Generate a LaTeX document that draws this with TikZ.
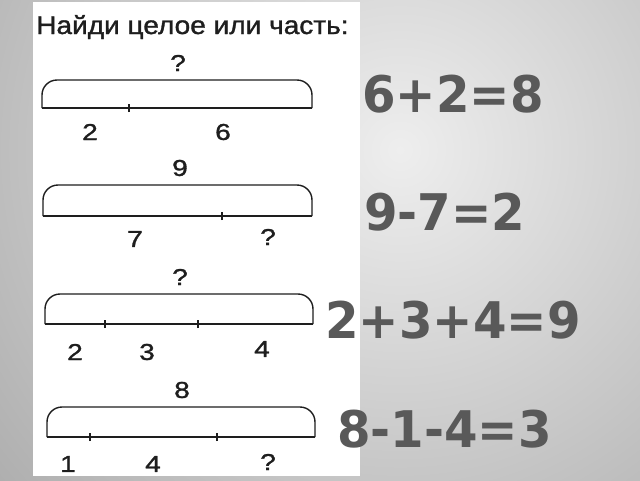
\documentclass[tikz,border=0pt]{standalone}
\usepackage{fontspec}
\setmainfont{Liberation Sans}
\newfontfamily\scanfont[FakeBold=1.2]{Liberation Sans}
\newfontfamily\eqfont{DejaVu Sans}
\definecolor{bgin}{HTML}{EEEEEE}
\definecolor{bgout}{HTML}{888888}
\definecolor{eqgray}{HTML}{595959}
\definecolor{ink}{HTML}{1E1E1E}
\begin{document}
\begin{tikzpicture}[x=1pt,y=-1pt,
  lbl/.style={inner sep=0pt,xscale=1.22,font=\scanfont\fontsize{23}{23}\selectfont,text=ink},
  eq/.style={inner sep=0pt,anchor=base west,xscale=0.955,text=eqgray,font=\eqfont\bfseries\fontsize{50.5}{50}\selectfont},
  baseline seg/.style={draw=ink,line width=2pt},
  bracket/.style={draw=ink,line width=1.4pt,rounded corners=15pt},
  tickmark/.style={draw=ink,line width=1.2pt}]
\useasboundingbox (0,0) rectangle (640,480);
\begin{scope}
\clip (0,0) rectangle (640,480);
\shade[inner color=bgin,outer color=bgout] (400,150) circle[radius=840];
\end{scope}
% page
\fill[white] (33,2) rectangle (360,476);
\node[inner sep=0pt,anchor=base west,xscale=1.1,text=ink,font=\scanfont\fontsize{25.5}{26}\selectfont] (title) at (36,34) {Найди целое или часть:};
% diagram 1
\coordinate (a1) at (42,108); \coordinate (b1) at (312,108);
\draw[baseline seg] (a1) -- (b1);
\draw[bracket] (a1) |- (177,80) -| (b1);
\coordinate (t11) at (129,108);
\draw[tickmark] ([yshift=-4pt]t11) -- ([yshift=4pt]t11);
\node[lbl] (q1) at (178,63) {?};
\node[lbl] (l11) at (90,132) {2};
\node[lbl] (l12) at (223,132) {6};
% diagram 2
\coordinate (a2) at (43,216); \coordinate (b2) at (312,216);
\draw[baseline seg] (a2) -- (b2);
\draw[bracket] (a2) |- (177,185) -| (b2);
\coordinate (t21) at (222,216);
\draw[tickmark] ([yshift=-4pt]t21) -- ([yshift=4pt]t21);
\node[lbl] (q2) at (180,168) {9};
\node[lbl] (l21) at (135,239) {7};
\node[lbl] (l22) at (268,237) {?};
% diagram 3
\coordinate (a3) at (45,324); \coordinate (b3) at (313,324);
\draw[baseline seg] (a3) -- (b3);
\draw[bracket] (a3) |- (179,294) -| (b3);
\coordinate (t31) at (105,324); \coordinate (t32) at (198,324);
\draw[tickmark] ([yshift=-4pt]t31) -- ([yshift=4pt]t31);
\draw[tickmark] ([yshift=-4pt]t32) -- ([yshift=4pt]t32);
\node[lbl] (q3) at (180,277) {?};
\node[lbl] (l31) at (75,352) {2};
\node[lbl] (l32) at (147,352) {3};
\node[lbl] (l33) at (262,349) {4};
% diagram 4
\coordinate (a4) at (47,437); \coordinate (b4) at (315,437);
\draw[baseline seg] (a4) -- (b4);
\draw[bracket] (a4) |- (181,407) -| (b4);
\coordinate (t41) at (90,437); \coordinate (t42) at (217,437);
\draw[tickmark] ([yshift=-4pt]t41) -- ([yshift=4pt]t41);
\draw[tickmark] ([yshift=-4pt]t42) -- ([yshift=4pt]t42);
\node[lbl] (q4) at (182,390) {8};
\node[lbl] (l41) at (68,464) {1};
\node[lbl] (l42) at (153,464) {4};
\node[lbl] (l43) at (268,462) {?};
% equations
\node[eq] (e1) at (362,112) {6+2=8};
\node[eq] (e2) at (364,230) {9-7=2};
\node[eq] (e3) at (325,338) {2+3+4=9};
\node[eq] (e4) at (337,447) {8-1-4=3};
\end{tikzpicture}
\end{document}
